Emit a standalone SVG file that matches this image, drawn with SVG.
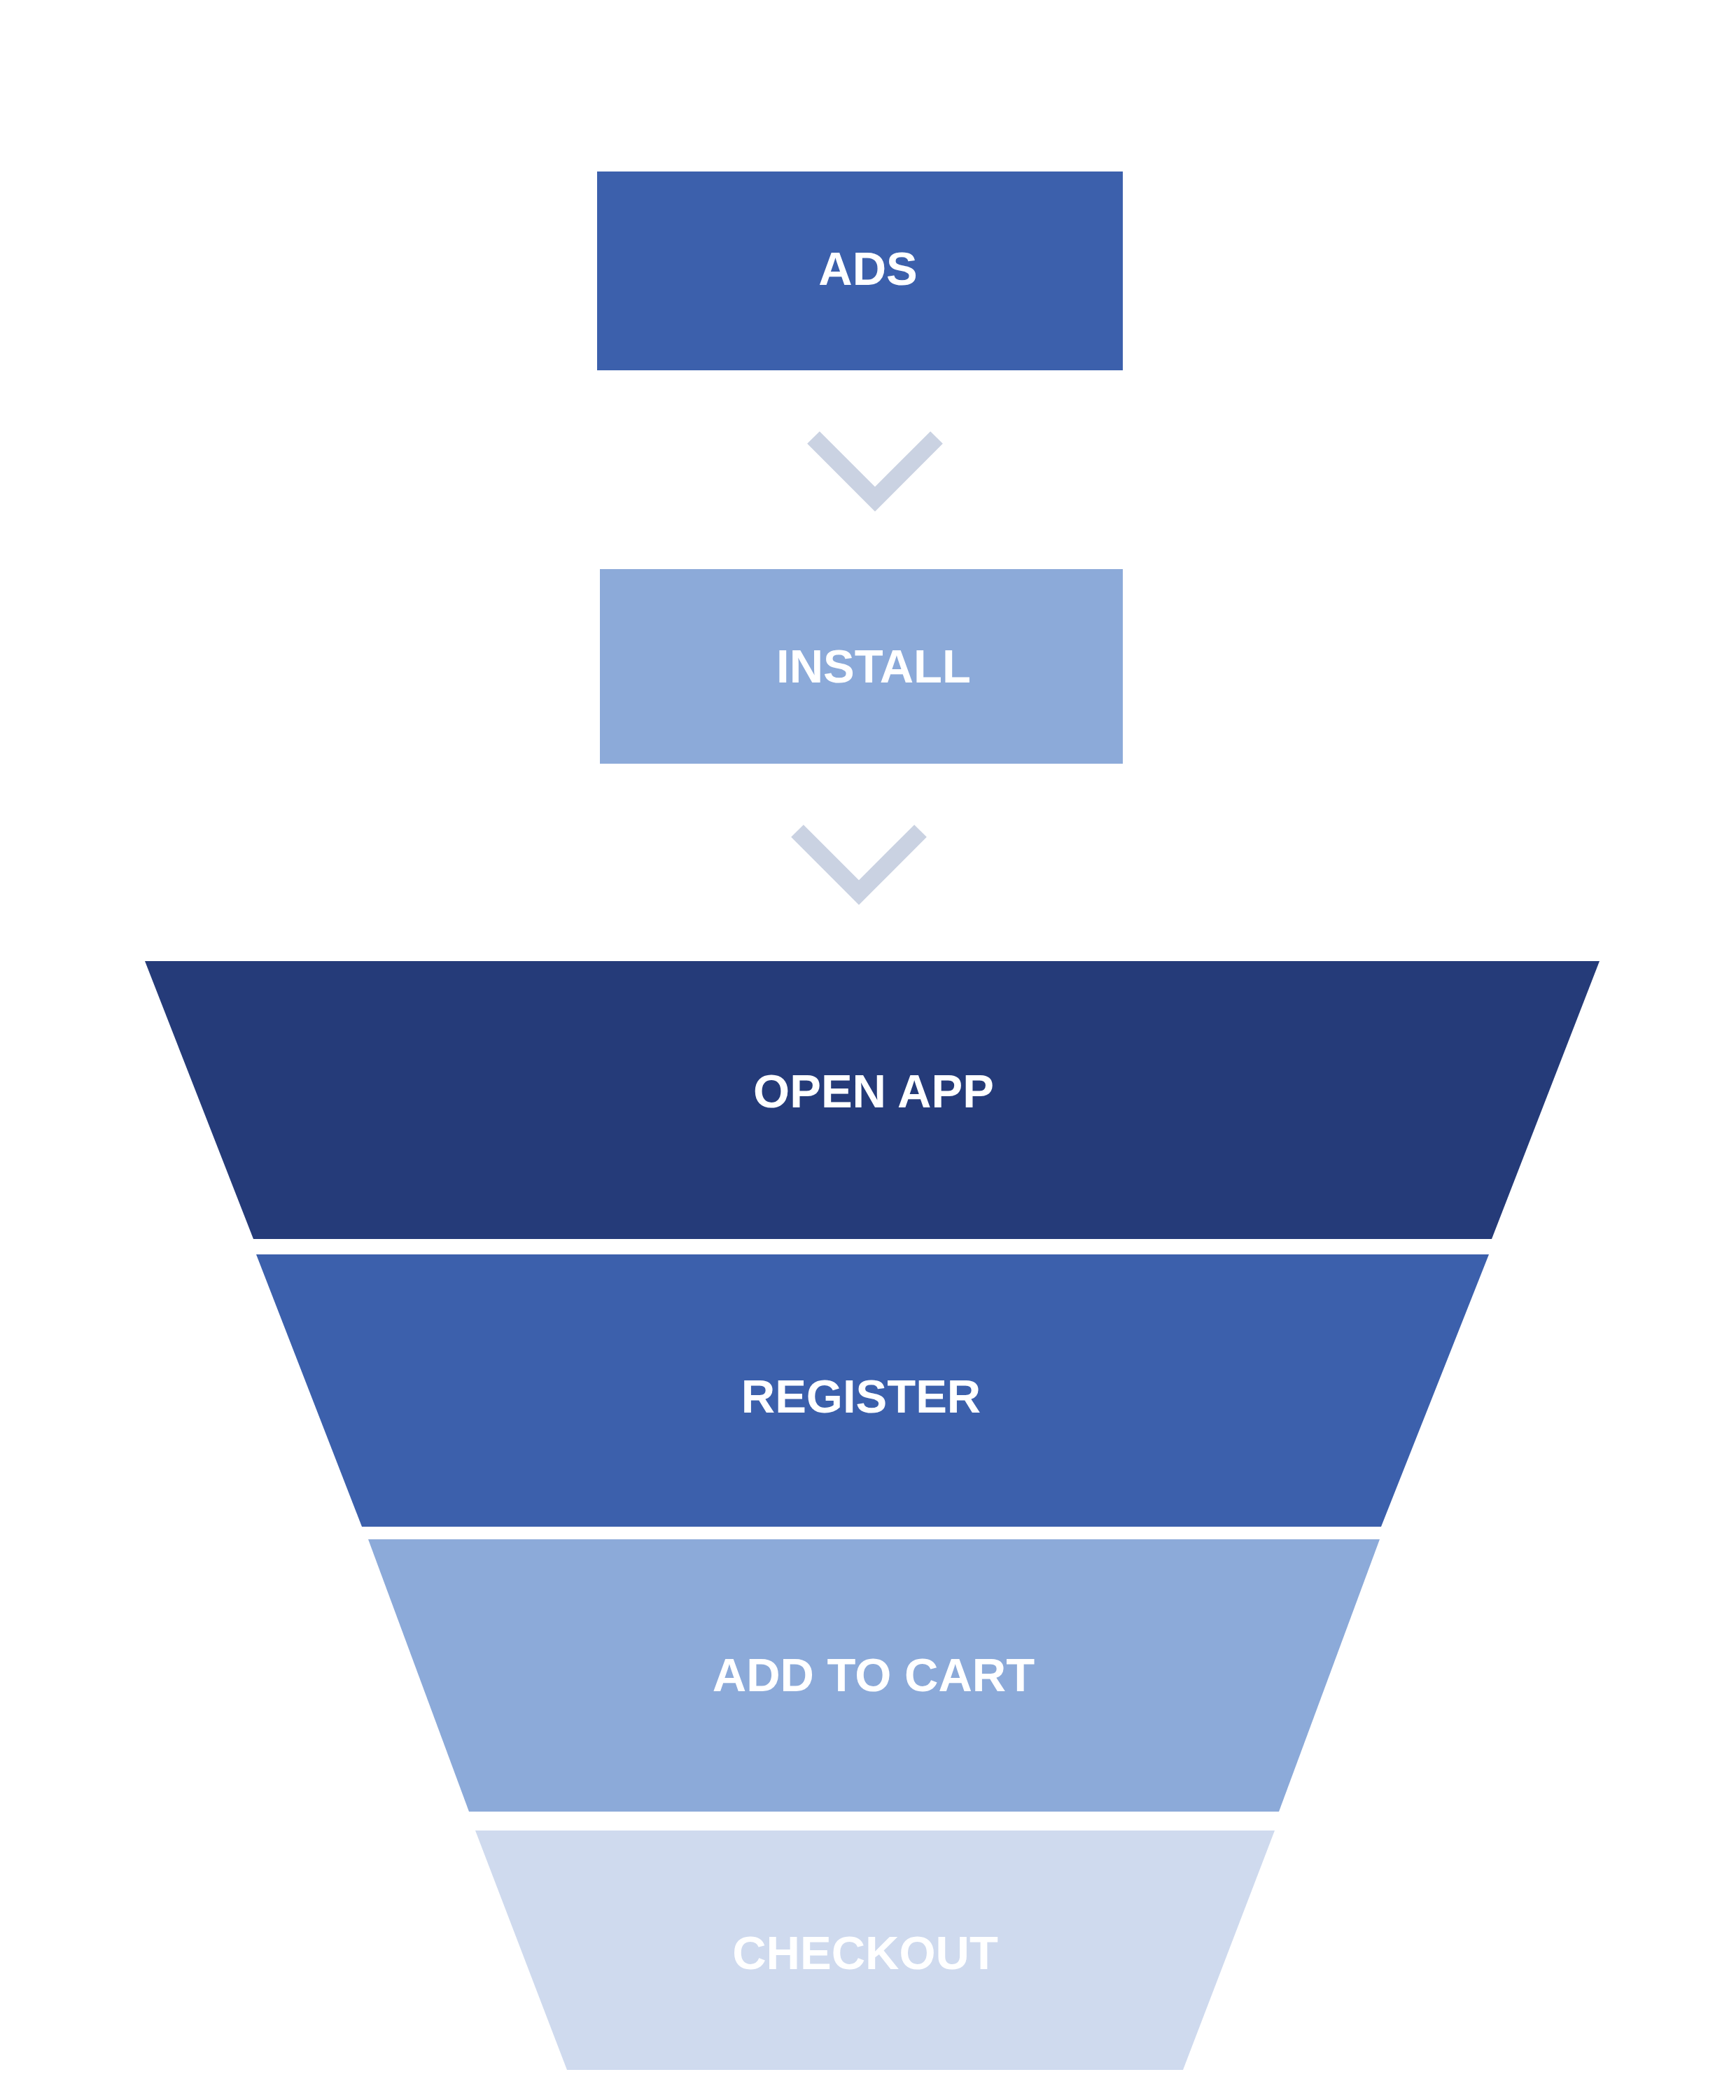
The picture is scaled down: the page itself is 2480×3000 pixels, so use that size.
<svg xmlns="http://www.w3.org/2000/svg" width="2480" height="3000" viewBox="0 0 2480 3000">
<style>
.lbl{font-family:"Liberation Sans",Arial,sans-serif;font-weight:bold;font-size:67px;fill:#FFFFFF;text-anchor:middle}
.chev{fill:none;stroke:#CAD2E2;stroke-width:25;stroke-linejoin:miter;stroke-linecap:butt;stroke-miterlimit:10}
</style>
<rect x="0" y="0" width="2480" height="3000" fill="#FFFFFF"/>
<g id="node-ads">
<rect x="853" y="245" width="751" height="284" fill="#3C60AC"/>
<text class="lbl" x="1240" y="407">ADS</text>
</g>
<g id="node-install">
<rect x="857" y="813" width="747" height="278" fill="#8CAAD9"/>
<text class="lbl" x="1248" y="975">INSTALL</text>
</g>
<g id="node-open-app">
<polygon points="207,1373 2285,1373 2131,1770 362,1770" fill="#253B79"/>
<text class="lbl" x="1248" y="1582">OPEN APP</text>
</g>
<g id="node-register">
<polygon points="366,1792 2127,1792 1973,2181 517,2181" fill="#3C60AC"/>
<text class="lbl" x="1230" y="2018">REGISTER</text>
</g>
<g id="node-add-to-cart">
<polygon points="526,2199 1971,2199 1827,2588 670,2588" fill="#8CAAD9"/>
<text class="lbl" x="1248" y="2416">ADD TO CART</text>
</g>
<g id="node-checkout">
<polygon points="679,2615 1821,2615 1690,2957 810,2957" fill="#CFDAEE"/>
<text class="lbl" x="1236" y="2813">CHECKOUT</text>
</g>
<g id="connectors">
<polyline class="chev" points="1162,625 1250,713 1338,625"/>
<polyline class="chev" points="1139,1187 1227,1275 1315,1187"/>
</g>
</svg>
